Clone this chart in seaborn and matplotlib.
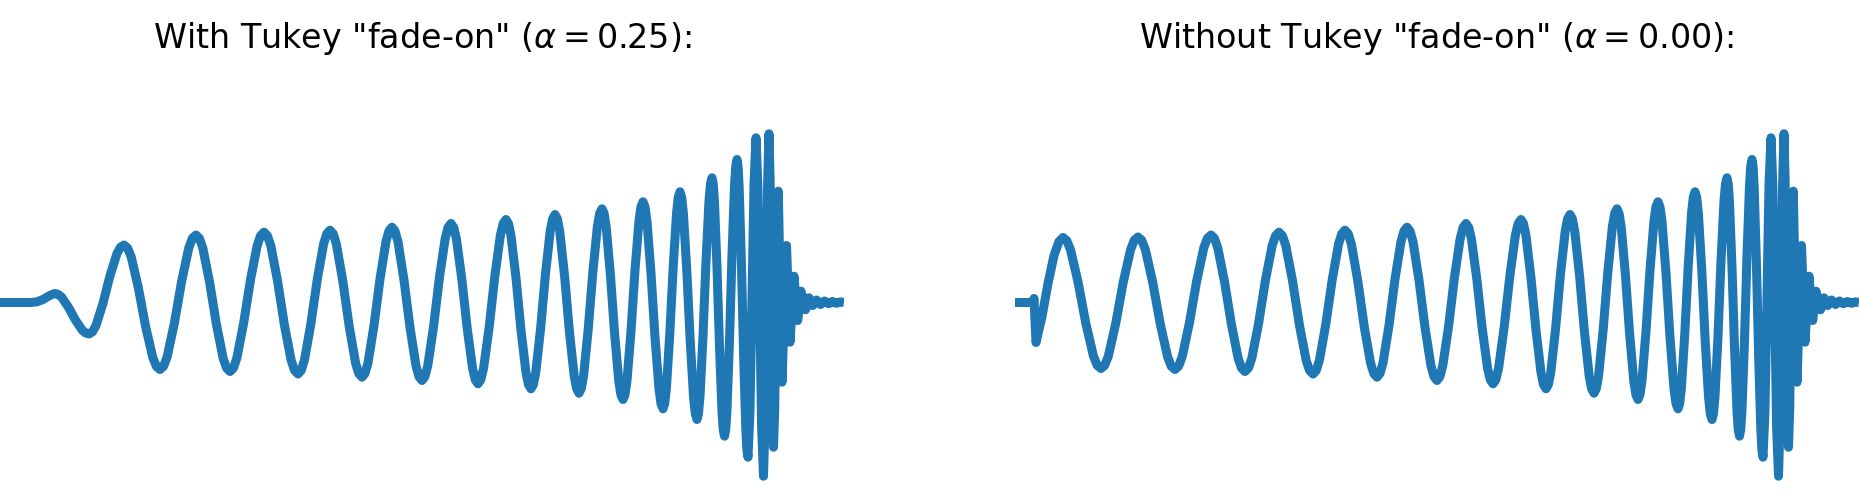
# plot.py

import matplotlib
matplotlib.use('Agg')
import matplotlib.pyplot as plt
import seaborn as sns
import pandas as pd

# Waveform: t in samples, h in arbitrary strain units
# Start of the signal, with the Tukey fade-on (left panel)
start_fade_t = [0, 30, 36, 42, 48, 52,
                55, 58.4, 61.8, 68.6, 75.4, 82.2, 85.6,
                89, 92.5, 96, 103, 110, 117, 120.5,
                124, 127.6, 131.2, 138.4, 145.6, 152.8, 156.4]
start_fade_h = [0, 0, 0.5, 2.5, 6, 8,
                9, 8.0, 5.1, -5.0, -17.5, -27.6, -30.5,
                -31.5, -29.3, -23, -0.8, 26.8, 49, 55.3,
                57.5, 54.4, 45.6, 14.5, -24, -55.1, -63.9]

# Start of the signal without fade-on (right panel)
start_raw_t = [0, 18, 19, 21, 27, 33, 39, 44,
               48, 51.8, 55.6, 63.2, 70.8, 78.4, 82.2,
               86, 89.7, 93.4, 100.8, 108.2, 115.6, 119.3,
               123, 126.7, 130.4, 137.8, 145.2, 152.6, 156.3]
start_raw_h = [0, 0, 4, -40, -14, 19, 47, 61,
               65, 61.8, 52.5, 19.7, -20.7, -53.5, -62.8,
               -66, -62.8, -53.4, -20.6, 20.1, 52.9, 62.3,
               65.5, 62.3, 52.8, 19.7, -21.2, -54.3, -63.8]

# Rest of the chirp (same in both panels), one row per half-cycle
chirp_t = [160, 163.6, 167.2, 174.4, 181.6, 188.8, 192.4,
           196, 199.4, 202.8, 209.6, 216.4, 223.2, 226.6,
           230, 233.4, 236.8, 243.6, 250.4, 257.2, 260.6,
           264, 267.4, 270.8, 277.6, 284.4, 291.2, 294.6,
           298, 301.2, 304.4, 310.8, 317.2, 323.6, 326.8,
           330, 333.2, 336.4, 342.8, 349.2, 355.6, 358.8,
           362, 365, 368, 374, 380, 386, 389,
           392, 395, 398, 404, 410, 416, 419,
           422, 424.9, 427.8, 433.6, 439.4, 445.2, 448.1,
           451, 453.7, 456.4, 461.8, 467.2, 472.6, 475.3,
           478, 480.8, 483.6, 489.2, 494.8, 500.4, 503.2,
           506, 508.5, 511, 516, 521, 526, 528.5,
           531, 533.4, 535.8, 540.6, 545.4, 550.2, 552.6,
           555, 557.4, 559.8, 564.6, 569.4, 574.2, 576.6,
           579, 581.3, 583.6, 588.2, 592.8, 597.4, 599.7,
           602, 604.1, 606.2, 610.4, 614.6, 618.8, 620.9,
           623, 625, 627, 631, 635, 639, 641,
           643, 645, 647, 651, 655, 659, 661,
           663, 664.7, 666.4, 669.8, 673.2, 676.6, 678.3,
           680, 681.7, 683.4, 686.8, 690.2, 693.6, 695.3,
           697, 698.5, 700, 703, 706, 709, 710.5,
           712, 713.25, 714.5, 717, 719.5, 722, 723.25,
           724.5, 725.75, 727, 729.5, 732, 734.5, 735.75,
           737, 738.1, 739.2, 741.4, 743.6, 745.8, 746.9,
           # merger
           748, 750, 752, 754,
           756, 757.9, 759.75, 761.6,
           763.5, 764.9, 766.25, 767.6,
           769, 770.1, 771.25, 772.4,
           773.5, 774.7, 775.9, 777.1,
           778.3, 780.15, 782, 784.25, 786.5, 788.25, 790, 792, 794, 795.85, 797.7, 799.35,
           # ringdown
           801, 805.5, 809, 812.7, 816.5, 820.5, 824.5, 828.5, 832.5, 836.5, 840.5, 844]
chirp_h = [-67, -63.7, -54.2, -20.5, 21.0, 54.7, 64.2,
           67.5, 64.2, 54.5, 20.3, -21.8, -56.0, -65.7,
           -69, -65.6, -55.7, -20.9, 22.2, 57.0, 66.9,
           70.3, 66.8, 56.8, 21.3, -22.5, -58.0, -68.0,
           -71.5, -68.0, -57.8, -21.8, 22.6, 58.6, 68.8,
           72.3, 68.7, 58.3, 21.5, -23.9, -60.7, -71.1,
           -74.7, -71.0, -60.4, -22.9, 23.5, 61.0, 71.6,
           75.3, 71.5, 60.7, 22.3, -25.0, -63.4, -74.2,
           -78, -74.2, -63.0, -23.8, 24.8, 64.0, 75.2,
           79, 75.1, 63.7, 23.6, -25.9, -66.0, -77.4,
           -81.3, -77.3, -65.6, -24.5, 26.2, 67.3, 79.0,
           83, 78.9, 66.8, 24.5, -27.8, -70.1, -82.2,
           -86.3, -82.0, -69.6, -26.1, 27.8, 71.4, 83.7,
           88, 83.6, 70.9, 26.3, -29.0, -73.6, -86.3,
           -90.7, -86.2, -73.1, -27.0, 30.0, 76.1, 89.2,
           93.7, 89.0, 75.5, 27.8, -31.1, -78.8, -92.3,
           -97, -92.2, -78.1, -28.7, 32.4, 81.8, 95.9,
           100.7, 95.6, 80.9, 29.2, -34.8, -86.5, -101.2,
           -106.3, -101.0, -85.6, -31.3, 35.7, 90.0, 105.4,
           110.7, 105.1, 89.0, 32.0, -38.3, -95.3, -111.4,
           -117, -111.1, -93.9, -33.5, 41.2, 101.6, 118.8,
           124.7, 118.4, 100.0, 35.4, -44.4, -109.0, -127.4,
           -133.7, -127.0, -107.3, -38.1, 47.4, 116.6, 136.2,
           143, 135.7, 114.6, 40.1, -51.8, -126.3, -147.4,
           # merger
           -154.7, -107.9, 5, 117.9,
           164.7, 115.1, -4.5, -124.1,
           -173.7, -123.5, -2.5, 118.5,
           168.7, 122.8, 12, -98.8,
           -144.7, -107.2, -16.7, 73.8,
           111.3, 15.8, -79.7, -11.3, 57, 8.6, -39.7, -6.7, 26.3, 4.2, -18, -3.3,
           # ringdown
           11.3, -7.3, 4.7, -3, 2.5, -2, 1.5, -1.2, 1, -0.8, 0.6, 0]

titles = ['With Tukey "fade-on" ($\\alpha = 0.25$):',
          'Without Tukey "fade-on" ($\\alpha = 0.00$):']

sns.set_style('white')
plt.rcParams['font.family'] = ['DejaVu Sans']
blue = sns.color_palette()[0]

fig = plt.figure(figsize=(18.6, 4.95), dpi=100)
W, H = 1860.0, 495.0

panels = [
    (pd.DataFrame({'t': start_fade_t + chirp_t, 'h': start_fade_h + chirp_h}), 0),
    (pd.DataFrame({'t': start_raw_t + chirp_t, 'h': start_raw_h + chirp_h}), 1015),
]

for (df, left_px), title in zip(panels, titles):
    ax = fig.add_axes([left_px / W, 5 / H, 844 / W, 370 / H])
    sns.lineplot(data=df, x='t', y='h', ax=ax, color=blue, linewidth=6.5,
                 estimator=None, sort=False, solid_joinstyle='round', solid_capstyle='butt')
    ax.set_xlim(0, 844)
    ax.set_ylim(-187.5, 182.5)
    ax.axis('off')
    # title centred over the panel
    fig.text((left_px + 422) / W, (H - 48) / H, title, ha='center', va='baseline',
             fontsize=24, color='black')

plt.savefig('out.png', dpi=100)
plt.close()
